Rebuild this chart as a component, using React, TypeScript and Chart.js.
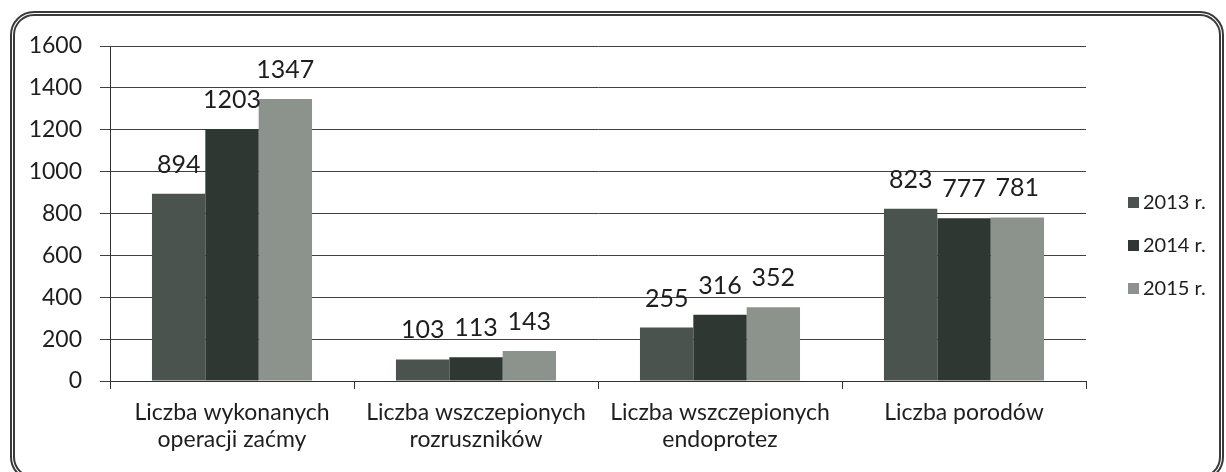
import React, { useEffect, useRef } from "react";
import { Chart, registerables } from "chart.js";

Chart.register(...registerables);

const categories: string[][] = [
  ["Liczba wykonanych", "operacji zaćmy"],
  ["Liczba wszczepionych", "rozruszników"],
  ["Liczba wszczepionych", "endoprotez"],
  ["Liczba porodów"],
];
const seriesLabels = ["2013 r.", "2014 r.", "2015 r."];
const values2013 = [894, 103, 255, 823];
const values2014 = [1203, 113, 316, 777];
const values2015 = [1347, 143, 352, 781];
const seriesColors = ["#4b534e", "#2f3732", "#8c938d"];
const yMin = 0;
const yMax = 1600;
const yStep = 200;

const FONT = "Lato, 'Open Sans', sans-serif";

const dataLabelPlugin = {
  id: "dataLabels",
  afterDatasetsDraw(chart: any) {
    const ctx = chart.ctx;
    ctx.save();
    ctx.font = `25px ${FONT}`;
    ctx.fillStyle = "#1e1e1e";
    ctx.textAlign = "center";
    ctx.textBaseline = "alphabetic";
    chart.data.datasets.forEach((ds: any, di: number) => {
      const meta = chart.getDatasetMeta(di);
      meta.data.forEach((bar: any, i: number) => {
        ctx.fillText(String(ds.data[i]), bar.x, bar.y - 21);
      });
    });
    ctx.restore();
  },
};

const legendPlugin = {
  id: "sideLegend",
  afterDraw(chart: any) {
    const ctx = chart.ctx;
    ctx.save();
    ctx.font = `20px ${FONT}`;
    ctx.textBaseline = "middle";
    ctx.textAlign = "left";
    const x = chart.chartArea.right + 42;
    const midY = chart.height / 2 + 9;
    chart.data.datasets.forEach((ds: any, i: number) => {
      const cy = midY + (i - 1) * 43;
      ctx.fillStyle = ds.backgroundColor;
      ctx.fillRect(x, cy - 5, 11, 11);
      ctx.fillStyle = "#1e1e1e";
      ctx.fillText(ds.label, x + 15, cy + 1);
    });
    ctx.restore();
  },
};

export default function App() {
  const canvasRef = useRef<HTMLCanvasElement | null>(null);

  useEffect(() => {
    if (!canvasRef.current) return;
    const chart = new Chart(canvasRef.current, {
      type: "bar",
      data: {
        labels: categories,
        datasets: [
          { label: seriesLabels[0], data: values2013, backgroundColor: seriesColors[0] },
          { label: seriesLabels[1], data: values2014, backgroundColor: seriesColors[1] },
          { label: seriesLabels[2], data: values2015, backgroundColor: seriesColors[2] },
        ],
      },
      options: {
        responsive: false,
        animation: false,
        layout: { padding: { left: 0, right: 140, top: 46, bottom: 0 } },
        datasets: {
          bar: { categoryPercentage: 0.656, barPercentage: 1, borderWidth: 0 },
        },
        plugins: {
          legend: { display: false },
          tooltip: { enabled: false },
          title: { display: false },
        },
        scales: {
          x: {
            offset: true,
            grid: {
              display: true,
              drawOnChartArea: false,
              drawTicks: true,
              tickLength: 8,
              color: "#333",
              offset: true,
            },
            border: { display: true, color: "#333", width: 1 },
            ticks: {
              color: "#1e1e1e",
              padding: 10,
              maxRotation: 0,
              autoSkip: false,
              font: { family: FONT, size: 23, lineHeight: 1.18 },
            },
            afterFit(scale: any) {
              scale.height = 472 - 381;
            },
          },
          y: {
            min: yMin,
            max: yMax,
            ticks: {
              stepSize: yStep,
              color: "#1e1e1e",
              padding: 18,
              font: { family: FONT, size: 23 },
              callback: (v: any) => String(v),
            },
            grid: {
              color: "#404040",
              lineWidth: 1,
              drawTicks: true,
              tickLength: 10,
            },
            border: { display: true, color: "#333", width: 1 },
            afterFit(scale: any) {
              scale.width = 110;
            },
          },
        },
      },
      plugins: [dataLabelPlugin, legendPlugin],
    });
    return () => chart.destroy();
  }, []);

  return (
    <div
      style={{
        position: "fixed",
        left: 0,
        top: 0,
        width: 1226,
        height: 472,
        background: "#ffffff",
        overflow: "hidden",
      }}
    >
      <div
        style={{
          position: "absolute",
          left: 10,
          top: 11,
          width: 1214,
          height: 470,
          border: "5px double #3a3a3a",
          borderRadius: 24,
          boxSizing: "border-box",
        }}
      />
      <canvas
        ref={canvasRef}
        width={1226}
        height={472}
        style={{ position: "absolute", left: 0, top: 0, width: 1226, height: 472 }}
      />
    </div>
  );
}
